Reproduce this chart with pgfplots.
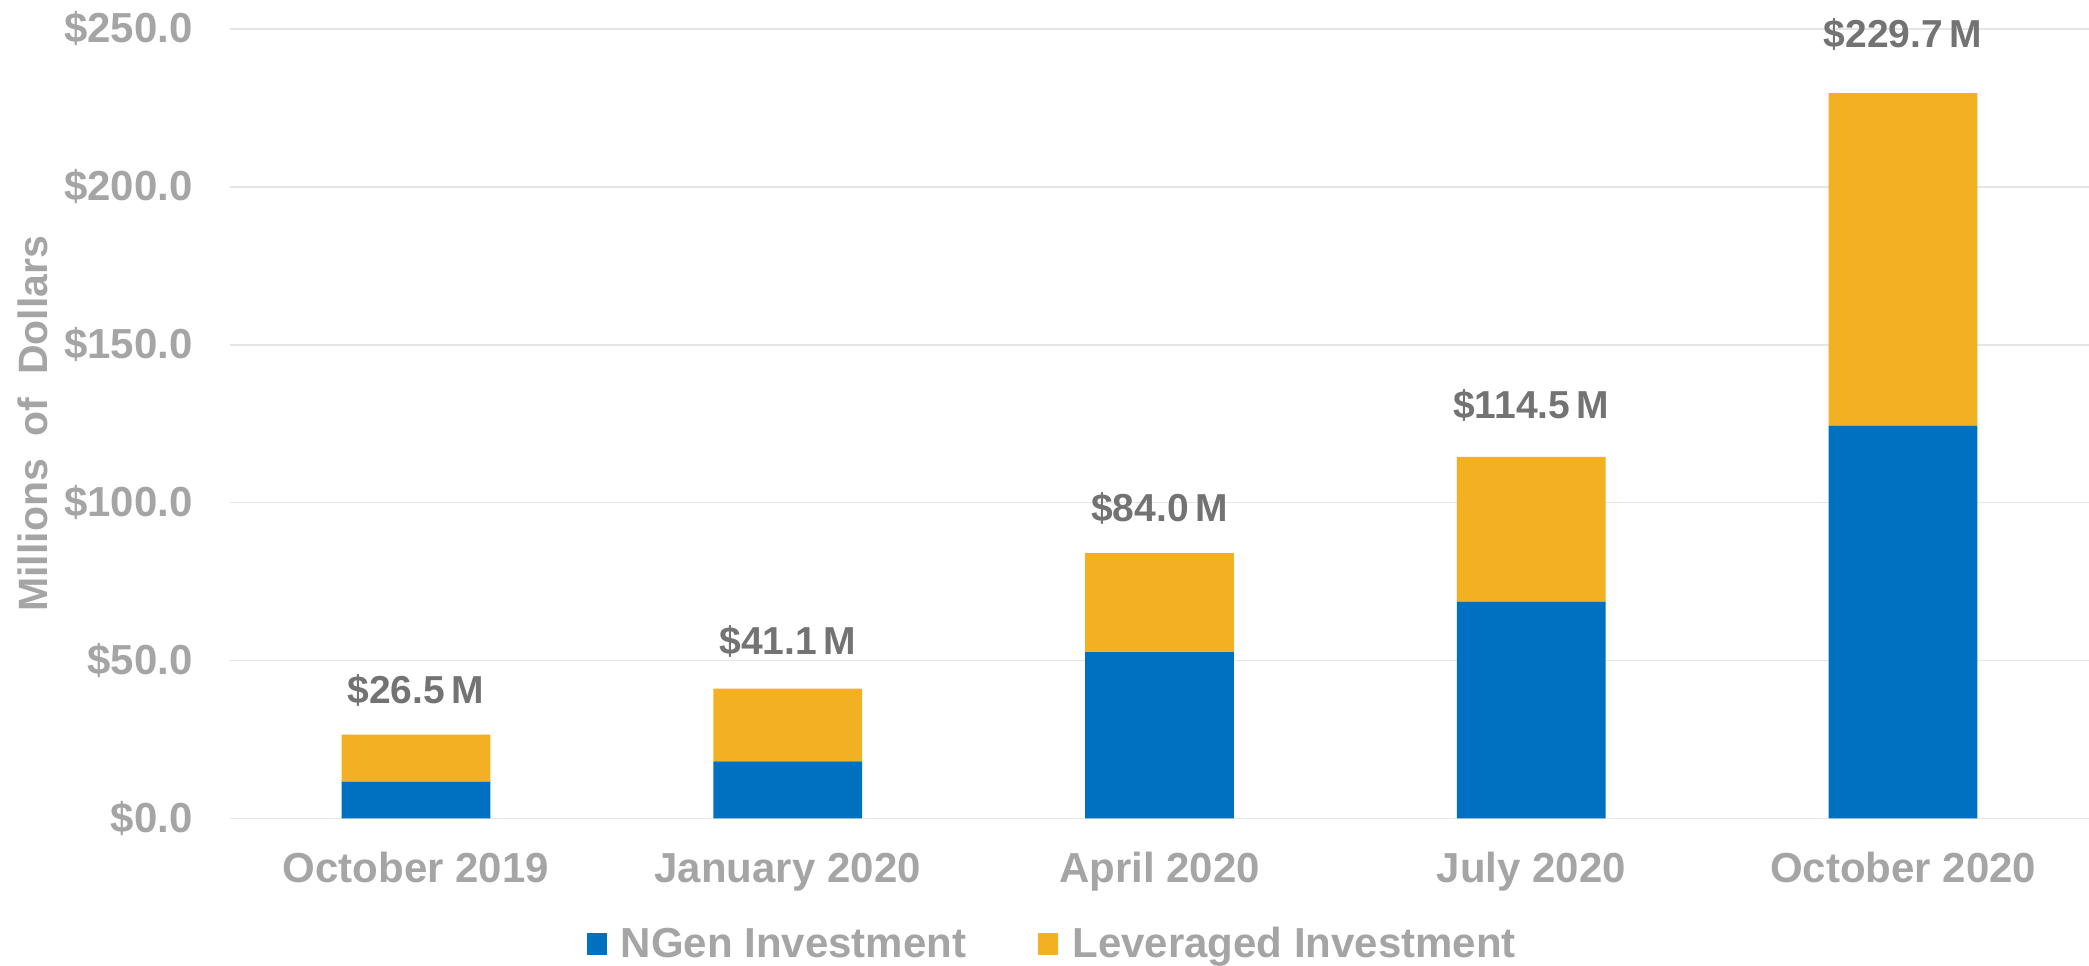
\documentclass[border=0pt]{standalone}
\usepackage{pgfplots}
\pgfplotsset{compat=1.18}
\usepackage{fontspec}
\setmainfont{Liberation Sans}
\definecolor{ngen}{HTML}{0070C0}
\definecolor{lev}{HTML}{F3B022}
\definecolor{ticktext}{HTML}{A5A5A5}
\definecolor{lbltext}{HTML}{737373}
\definecolor{gridc}{HTML}{E6E6E6}
\begin{document}
\begin{tikzpicture}
\useasboundingbox (-115pt,-73.35pt) rectangle (929.5pt,409.15pt);
\begin{axis}[
  scale only axis, width=929.5pt, height=394.65pt,
  ybar stacked, bar width=0.4,
  xmin=-0.5, xmax=4.5, ymin=0, ymax=250,
  clip=false,
  xtick={0,1,2,3,4},
  xticklabels={October 2019, January 2020, April 2020, July 2020, October 2020},
  ytick={0,50,100,150,200,250},
  yticklabels={\$0.0,\$50.0,\$100.0,\$150.0,\$200.0,\$250.0},
  axis line style={draw=none}, tick style={draw=none}, major tick length=0pt,
  ymajorgrids, grid style={gridc, line width=0.8pt},
  ticklabel style={font=\fontsize{21}{25}\selectfont\bfseries, text=ticktext, inner sep=0pt},
  xticklabel style={anchor=base, yshift=-31.85pt},
  yticklabel style={anchor=base east, xshift=-18.5pt, yshift=-6.85pt},
  ylabel={Millions\ \ of\ \ Dollars},
  ylabel style={at={(axis description cs:-0.0984,0.5)}, anchor=base,
    font=\fontsize{20.5}{24}\selectfont\bfseries, text=ticktext, inner sep=0pt},
  legend columns=2,
  legend style={at={(axis description cs:0.192,-0.1594)}, anchor=west,
    draw=none, fill=none, inner sep=0pt, outer sep=0pt,
    font=\fontsize{21}{25}\selectfont\bfseries, text=ticktext,
    nodes={inner sep=0pt},
    cells={anchor=base west},
    /tikz/every odd column/.style={column sep=7pt},
    /tikz/every even column/.style={column sep=36pt}},
]
\addplot[fill=ngen, draw=none,
  legend image code/.code={\fill[ngen] (0pt,1.5pt) rectangle (10pt,12.5pt);}]
  coordinates {(0,11.6) (1,18.0) (2,52.6) (3,68.6) (4,124.4)};
\addplot[fill=lev, draw=none,
  legend image code/.code={\fill[lev] (0pt,1.5pt) rectangle (10pt,12.5pt);}]
  coordinates {(0,14.9) (1,23.1) (2,31.4) (3,45.9) (4,105.3)};
\legend{NGen Investment, Leveraged Investment}
\node[anchor=base, inner sep=0pt, font=\fontsize{19.5}{24}\selectfont\bfseries, text=lbltext] at (axis cs:0,36.4) {\$26.5\hspace{0.17em}M};
\node[anchor=base, inner sep=0pt, font=\fontsize{19.5}{24}\selectfont\bfseries, text=lbltext] at (axis cs:1,52.0) {\$41.1\hspace{0.17em}M};
\node[anchor=base, inner sep=0pt, font=\fontsize{19.5}{24}\selectfont\bfseries, text=lbltext] at (axis cs:2,94.0) {\$84.0\hspace{0.17em}M};
\node[anchor=base, inner sep=0pt, font=\fontsize{19.5}{24}\selectfont\bfseries, text=lbltext] at (axis cs:3,126.5) {\$114.5\hspace{0.17em}M};
\node[anchor=base, inner sep=0pt, font=\fontsize{19.5}{24}\selectfont\bfseries, text=lbltext] at (axis cs:4,244.0) {\$229.7\hspace{0.17em}M};
\end{axis}
\end{tikzpicture}
\end{document}
